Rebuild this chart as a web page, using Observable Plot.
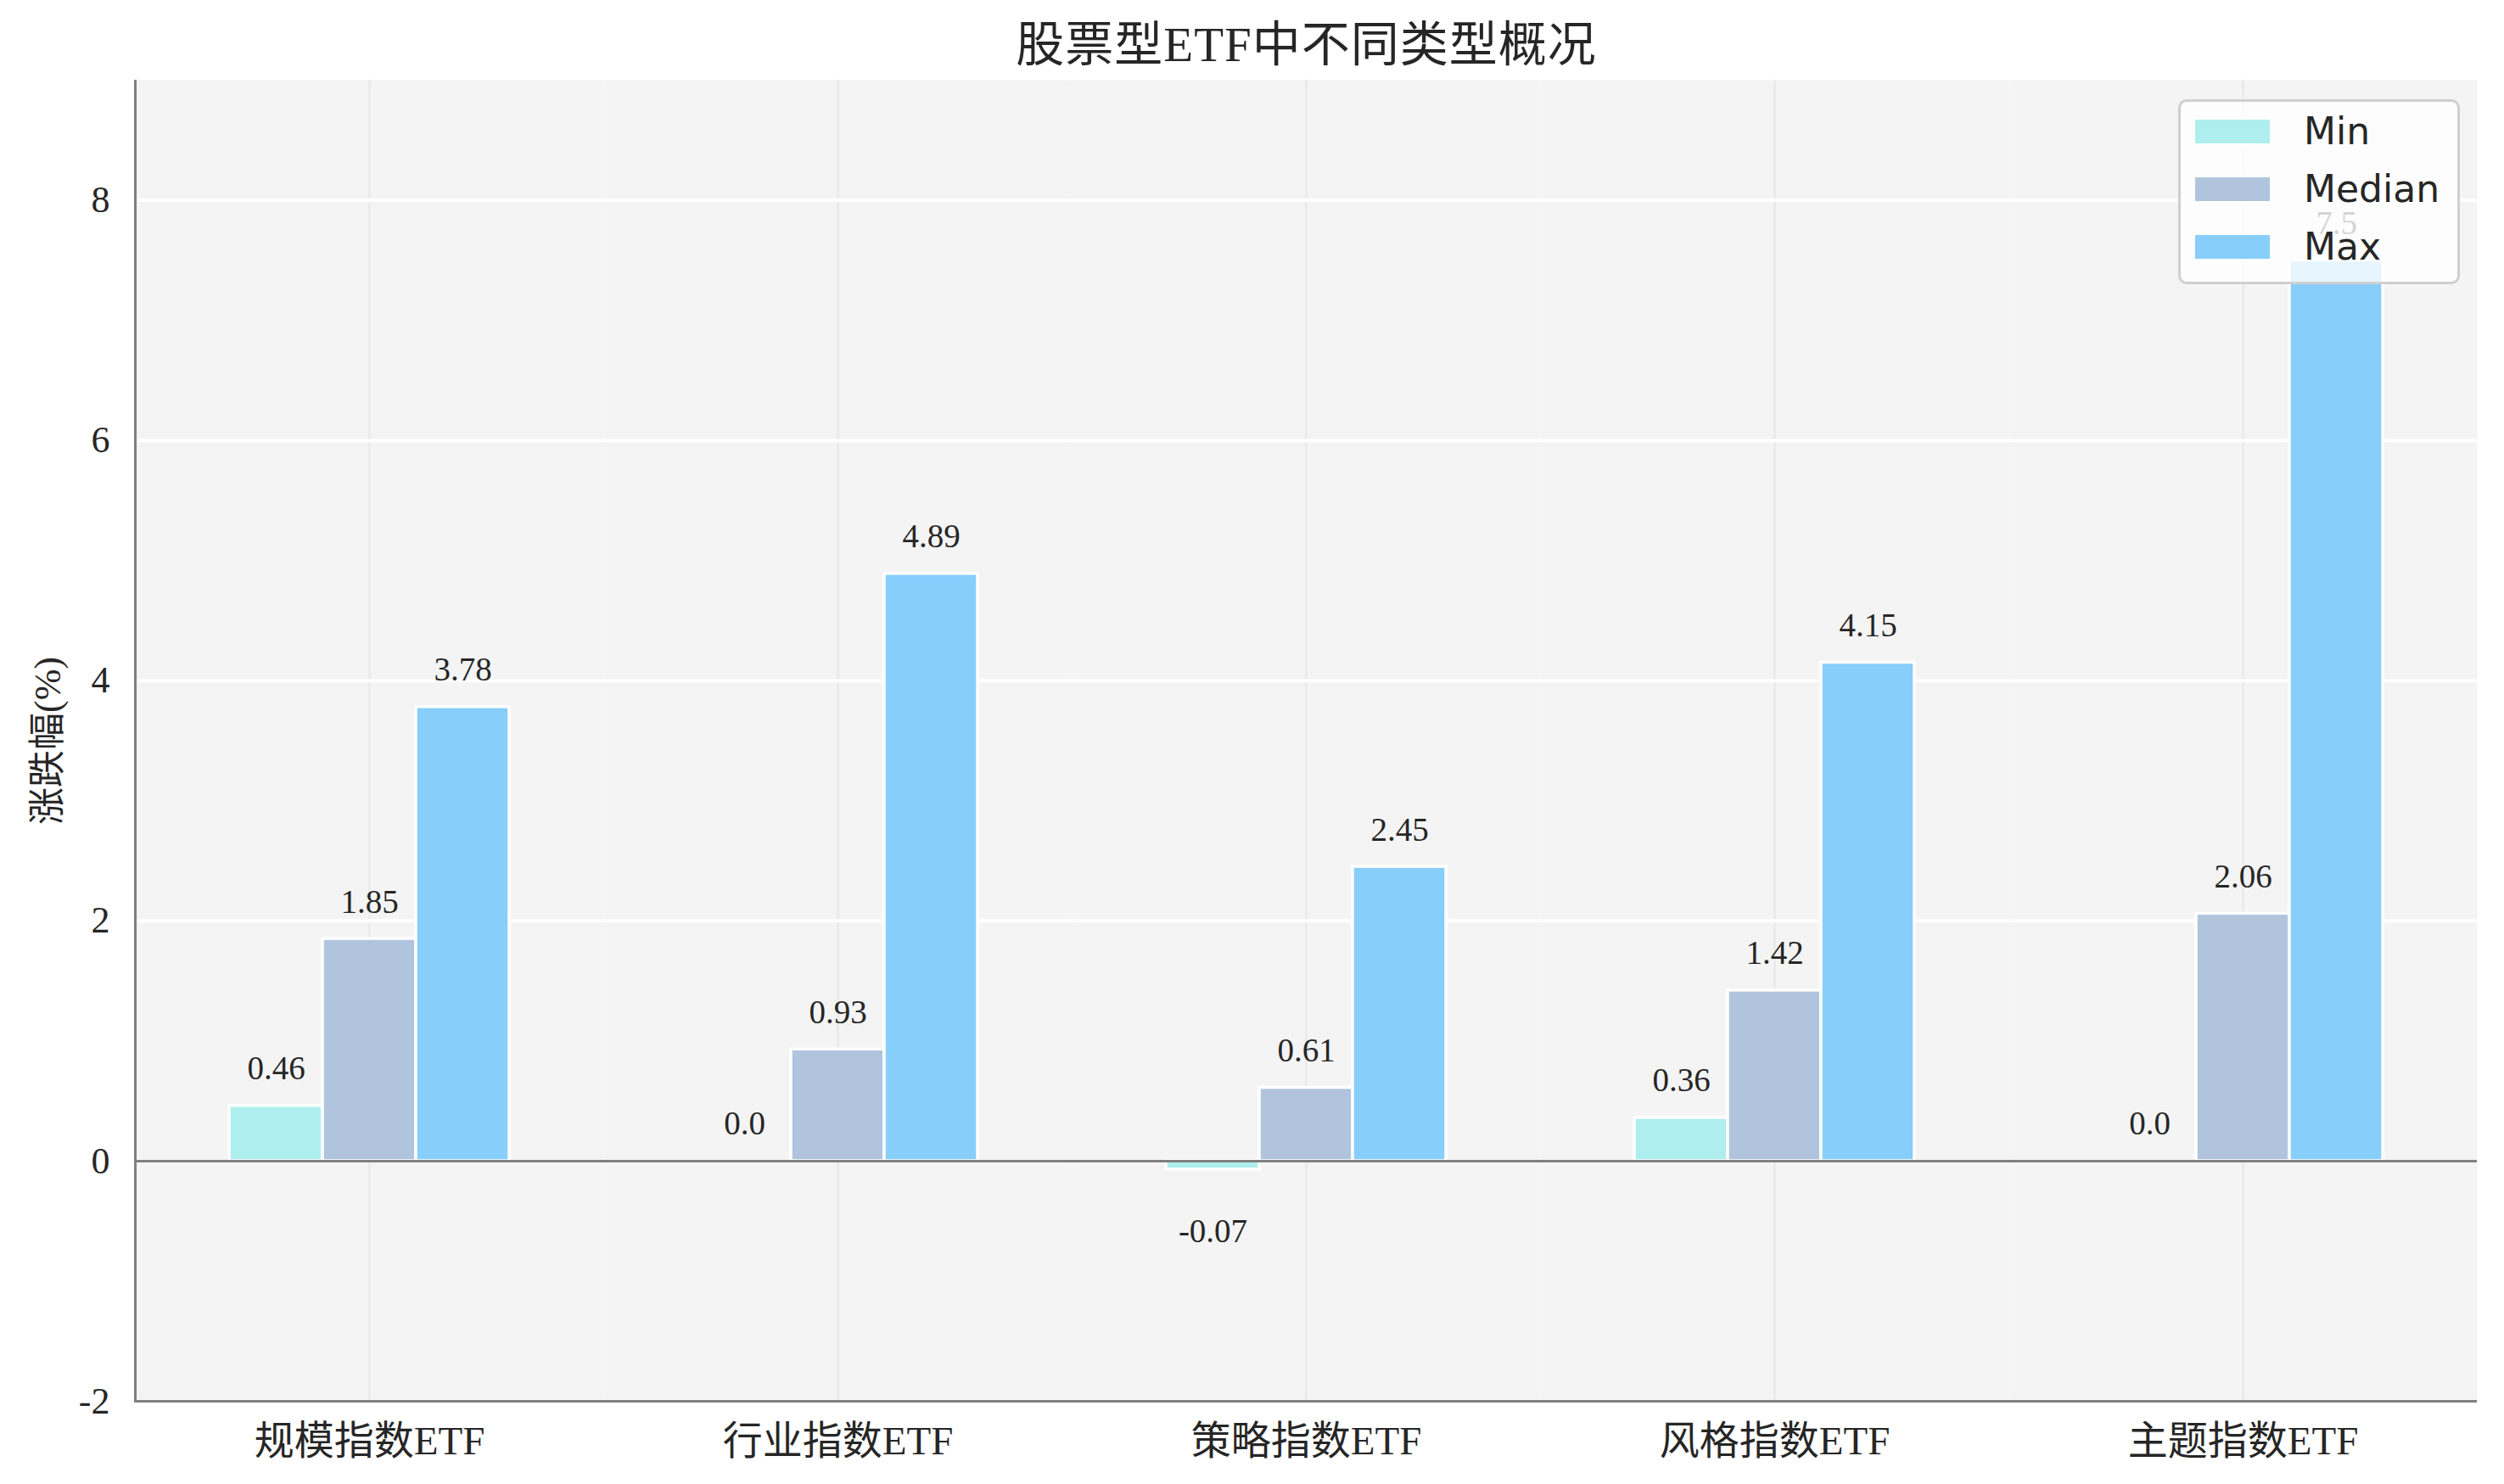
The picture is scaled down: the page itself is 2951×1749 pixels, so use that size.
<!DOCTYPE html>
<html>
<head>
<meta charset="utf-8">
<script src="https://cdn.jsdelivr.net/npm/d3@7"></script>
<script src="https://cdn.jsdelivr.net/npm/@observablehq/plot@0.6"></script>
<style>
  html, body { margin: 0; padding: 0; background: #ffffff; }
  #wrap { position: relative; width: 2951px; height: 1749px; background: #fff; }
  #title {
    box-sizing: border-box; height: 94px; padding-top: 24px; padding-left: 158px; padding-right: 30px;
    text-align: center; font-family: 'Liberation Serif', 'Noto Sans CJK SC', serif; font-size: 57px;
    line-height: 58px; color: #262626; letter-spacing: 1px;
  }
  #legend {
    position: absolute; left: 2567px; top: 117px; width: 332px; height: 218px; box-sizing: border-box;
    border: 3px solid #cfcfcf; border-radius: 10px; background: rgba(255,255,255,0.8);
    font-family: 'DejaVu Sans', sans-serif; font-size: 44px; color: #262626;
  }
  .row { position: absolute; left: 0; height: 44px; }
  .sw { position: absolute; left: 17px; top: 8px; width: 88px; height: 28px; outline: 3px solid #ffffff; }
  .lb { position: absolute; left: 145px; top: 0; line-height: 44px; white-space: nowrap; }
</style>
</head>
<body>
<div id="wrap">
  <div id="title"></div>
  <div id="chart"></div>
  <div id="legend"></div>
</div>
<script>
const titleText = "股票型ETF中不同类型概况";
const yLabel = "涨跌幅(%)";
const categories = ["规模指数ETF", "行业指数ETF", "策略指数ETF", "风格指数ETF", "主题指数ETF"];
const seriesNames = ["Min", "Median", "Max"];
const seriesColors = ["#AFEEEE", "#B0C4DE", "#87CEFA"];
const minValues = [0.46, 0.0, -0.07, 0.36, 0.0];
const medianValues = [1.85, 0.93, 0.61, 1.42, 2.06];
const maxValues = [3.78, 4.89, 2.45, 4.15, 7.5];
const yTicks = [-2, 0, 2, 4, 6, 8];
const yGrid = [2, 4, 6, 8];
const yDomain = [-2, 9];

const seriesValues = [minValues, medianValues, maxValues];
const rows = [];
categories.forEach((c, i) => {
  seriesNames.forEach((s, k) => rows.push({category: c, series: s, value: seriesValues[k][i]}));
});
const fmt = v => Number.isInteger(v) ? v.toFixed(1) : String(v);

document.getElementById("title").textContent = titleText;

const font = "'Liberation Serif', 'Noto Sans CJK SC', serif";
const chart = Plot.plot({
  width: 2951,
  height: 1655,
  marginTop: 0,
  marginBottom: 98,
  marginLeft: 157,
  marginRight: 30,
  style: {fontFamily: font, fontSize: "44px", color: "#262626", background: "transparent"},
  fx: {domain: categories, padding: 0, label: null},
  x: {domain: seriesNames, paddingInner: 0, paddingOuter: 1, axis: null},
  y: {domain: yDomain, ticks: yTicks, tickSize: 0, tickPadding: 30, tickFormat: d => String(d),
      label: yLabel, labelAnchor: "center", labelOffset: 120, labelArrow: "none"},
  color: {domain: seriesNames, range: seriesColors},
  marks: [
    Plot.frame({fill: "#f4f4f4", stroke: null}),
    Plot.ruleX(["Median"], {stroke: "#ebebeb", strokeWidth: 3}),
    Plot.ruleY(yGrid, {stroke: "#ffffff", strokeWidth: 4}),
    Plot.barY(rows, {fx: "category", x: "series", y: "value", fill: "series", stroke: "#ffffff", strokeWidth: 3.5}),
    Plot.ruleY([0], {stroke: "#808080", strokeWidth: 3}),
    Plot.ruleY([yDomain[0]], {stroke: "#808080", strokeWidth: 3}),
    Plot.frame({anchor: "left", facetAnchor: "left", stroke: "#808080", strokeWidth: 3}),
    Plot.axisFx({anchor: "bottom", tickSize: 0, tickPadding: 29, label: null, fontSize: 47}),
    Plot.text(rows.filter(d => d.value >= 0), {fx: "category", x: "series", y: "value", text: d => fmt(d.value),
      lineAnchor: "bottom", dy: -31, fontSize: 39, fill: "#262626"}),
    Plot.text(rows.filter(d => d.value < 0), {fx: "category", x: "series", y: "value", text: d => fmt(d.value),
      lineAnchor: "bottom", dy: 86, fontSize: 39, fill: "#262626"})
  ]
});
document.getElementById("chart").appendChild(chart);

const legend = document.getElementById("legend");
const rowCenters = [35, 103, 171];
seriesNames.forEach((s, k) => {
  const r = document.createElement("div");
  r.className = "row";
  r.style.top = (rowCenters[k] - 22) + "px";
  r.innerHTML = `<div class="sw" style="background:${seriesColors[k]}"></div><div class="lb">${s}</div>`;
  legend.appendChild(r);
});
</script>
</body>
</html>
